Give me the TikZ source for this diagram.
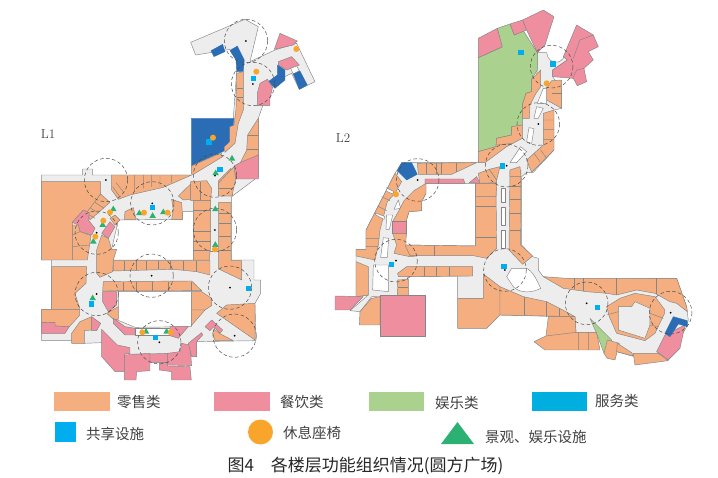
\documentclass[tikz,border=0pt]{standalone}
\usepackage{fontspec}
\newfontfamily\cjk{Noto Sans CJK SC}
\usetikzlibrary{shapes.geometric}
\definecolor{retail}{HTML}{F4AE7F}
\definecolor{food}{HTML}{EE8E9F}
\definecolor{fun}{HTML}{AAD18E}
\definecolor{service}{HTML}{2B6DB5}
\definecolor{serviceKey}{HTML}{00AEE0}
\definecolor{shared}{HTML}{00AEEF}
\definecolor{seat}{HTML}{F9A42B}
\definecolor{scenic}{HTML}{2BB273}
\definecolor{hall}{HTML}{EDEDED}
\definecolor{wall}{HTML}{858585}
\begin{document}
\begin{tikzpicture}[x=1pt,y=-1pt,
        line join=round,
        frameA/.style = {xshift=30pt,yshift=-10pt,x=0.3333pt,y=-0.3333pt},
        frameB/.style = {xshift=30pt,yshift=-170pt,x=0.3333pt,y=-0.3333pt},
        frameC/.style = {xshift=330pt,yshift=-10pt,x=0.3333pt,y=-0.3333pt},
        frameD/.style = {xshift=330pt,yshift=-170pt,x=0.3333pt,y=-0.3333pt},
        floorarea/.style = {fill=hall,draw=wall,line width=0.45pt},
        court/.style = {fill=white,draw=wall,line width=0.45pt},
        shopA/.style = {fill=retail,draw=wall,line width=0.45pt},
        shopB/.style = {fill=food,draw=wall,line width=0.45pt},
        shopC/.style = {fill=fun,draw=wall,line width=0.45pt},
        shopD/.style = {fill=service,draw=service,line width=0.3pt},
        split/.style = {draw=wall,line width=0.45pt},
        reach/.style = {draw=black!70,line width=0.5pt,dash pattern=on 3.5pt off 2.5pt},
        sharedbox/.style = {fill=shared,minimum size=5.5pt,inner sep=0pt},
        seatdot/.style = {circle,fill=seat,minimum size=6pt,inner sep=0pt},
        scenictri/.style = {regular polygon,regular polygon sides=3,fill=scenic,minimum size=7.5pt,inner sep=0pt},
        key/.style = {anchor=west,font=\cjk\fontsize{14.5}{16}\selectfont,text=black!75,inner sep=0pt}
        ]
        \useasboundingbox (0,0) rectangle (718,477);

        % L1
        \begin{scope}[frameB]
        \draw[floorarea] (482,-383) -- (645,-452) -- (685,-430) -- (660,-325) -- (735,-360) -- (800,-380) -- (855,-265) -- (808,-242) -- (785,-290) -- (722,-260) -- (685,-155) -- (685,20) -- (605,80) -- (605,270) -- (672,270) -- (672,330) -- (692,330) -- (692,370) -- (675,400) -- (678,512) -- (500,515) -- (500,560) -- (450,552) -- (300,552) -- (215,518) -- (163,520) -- (125,512) -- (35,512) -- (35,418) -- (65,418) -- (65,270) -- (35,270) -- (35,15) -- (158,15) -- (158,-3) -- (187,-3) -- (187,15) -- (485,15) -- (575,-50) -- (610,-155) -- (620,-295) -- (640,-330) -- (618,-365) -- (497,-345) -- cycle;
        \draw[court] (265,150) -- (458,148) -- (458,125) -- (490,125) -- (490,270) -- (250,270) -- (245,238) -- cycle;
        \draw[court] (265,365) -- (484,365) -- (484,470) -- (315,472) -- (250,445) -- (265,410) -- cycle;
        \draw[court] (315,475) rectangle (420,495);

        \draw[shopA] (35,35) -- (212,35) -- (212,72) -- (175,125) -- (127,157) -- (127,270) -- (35,270) -- cycle;
        \draw[shopA] (212,72) -- (240,97) -- (180,150) -- (172,125) -- cycle;
        \draw[split] (195,97) -- (222,115) (182,115) -- (208,130) (175,133) -- (195,145);
        \draw[shopB] (127,157) -- (160,120) -- (178,128) -- (175,150) -- (195,175) -- (185,195) -- (150,185) -- (145,165) -- cycle;
        \draw[shopA] (127,165) -- (145,165) -- (150,185) -- (183,197) -- (172,270) -- (127,270) -- cycle;
        \draw[split] (127,230) -- (178,225) (127,195) -- (150,185);
        \draw[shopA] (245,15) -- (485,15) -- (400,52) -- (300,75) -- (265,88) -- (245,60) -- cycle;
        \draw[split] (313,15) -- (313,65) (340,15) -- (340,55) (365,15) -- (365,50) (390,15) -- (390,50) (425,15) -- (425,38) (248,50) -- (268,78) (258,38) -- (282,68);
        \draw[shopA] (445,78) -- (482,42) -- (482,88) -- (460,90) -- cycle;
        \draw[shopA] (482,35) -- (530,32) -- (545,55) -- (542,92) -- (482,92) -- cycle;
        \draw[split] (510,35) -- (510,92);
        \draw[shopA] (490,92) -- (542,92) -- (542,225) -- (538,270) -- (490,270) -- cycle;
        \draw[split] (490,120) -- (542,120) (490,185) -- (542,185) (490,215) -- (542,215) (490,240) -- (540,240);
        \draw[shopA] (566,97) -- (603,97) -- (603,272) -- (635,272) -- (635,330) -- (566,297) -- cycle;
        \draw[split] (566,130) -- (603,130) (566,160) -- (603,160) (566,200) -- (603,200) (566,240) -- (603,240);
        \draw[shopA] (566,32) -- (603,-5) -- (608,78) -- (566,78) -- cycle;
        \draw[split] (566,55) -- (605,55) (566,38) -- (603,38);
        \draw[shopA] (285,125) -- (310,113) -- (318,148) -- (283,148) -- cycle;
        \draw[shopA] (425,88) -- (455,98) -- (458,148) -- (425,148) -- (430,120) -- cycle;
        \draw[shopA] (240,145) -- (255,135) -- (270,150) -- (255,165) -- cycle;
        \draw[shopB] (215,190) -- (240,155) -- (255,170) -- (235,205) -- cycle;
        \draw[shopA] (200,240) -- (215,195) -- (235,205) -- (245,238) -- (260,238) -- (250,270) -- (248,305) -- (210,322) -- (200,310) -- cycle;
        \draw[shopA] (250,272) -- (540,272) -- (540,315) -- (500,305) -- (430,298) -- (250,303) -- cycle;
        \draw[split] (283,272) -- (283,302) (318,272) -- (318,300) (350,272) -- (350,300) (385,272) -- (385,298) (420,272) -- (420,298) (460,272) -- (460,300) (500,272) -- (500,305);
        \draw[shopA] (65,290) -- (170,290) -- (168,340) -- (135,370) -- (150,418) -- (65,418) -- cycle;
        \draw[shopA] (220,335) -- (485,333) -- (515,362) -- (218,363) -- cycle;
        \draw[split] (280,335) -- (280,363) (320,335) -- (320,363) (367,335) -- (367,363) (415,335) -- (415,363) (485,335) -- (485,363);
        \draw[shopA] (484,365) -- (515,365) -- (545,385) -- (545,407) -- (525,420) -- (484,420) -- cycle;
        \draw[shopA] (484,420) -- (525,420) -- (484,467) -- cycle;
        \draw[shopB] (218,365) -- (260,365) -- (260,405) -- (235,425) -- (218,395) -- cycle;
        \draw[shopA] (265,410) -- (265,448) -- (250,448) -- (230,430) -- cycle;
        \draw[shopB] (250,445) -- (285,470) -- (315,475) -- (315,495) -- (285,495) -- (250,460) -- cycle;
        \draw[shopB] (420,470) -- (475,470) -- (445,505) -- (420,497) -- cycle;
        \draw[shopA] (35,418) -- (148,418) -- (148,437) -- (118,470) -- (75,468) -- (75,457) -- (35,458) -- cycle;
        \draw[shopB] (35,458) -- (75,457) -- (75,468) -- (118,470) -- (105,490) -- (35,490) -- cycle;
        \draw[shopA] (125,490) -- (150,455) -- (185,440) -- (185,480) -- (163,482) -- (163,520) -- (125,520) -- cycle;
        \draw[shopB] (185,440) -- (212,460) -- (200,482) -- (185,482) -- cycle;
        \draw[shopB] (215,478) -- (262,525) -- (300,533) -- (300,550) -- (285,552) -- (283,605) -- (255,605) -- (215,560) -- cycle;
        \draw[shopB] (283,555) -- (360,550) -- (360,602) -- (320,605) -- (318,630) -- (283,630) -- cycle;
        \draw[shopB] (360,552) -- (412,550) -- (412,578) -- (360,578) -- cycle;
        \draw[shopB] (388,578) -- (412,578) -- (412,588) -- (480,590) -- (484,630) -- (425,630) -- (425,605) -- (388,600) -- cycle;
        \draw[shopB] (412,550) -- (450,545) -- (455,520) -- (480,525) -- (485,587) -- (412,585) -- cycle;
        \draw[shopB] (475,520) -- (515,488) -- (518,495) -- (500,515) -- (500,560) -- (485,560) -- cycle;
        \draw[shopA] (560,430) -- (590,405) -- (675,400) -- (675,510) -- cycle;
        \draw[shopB] (525,470) -- (545,450) -- (578,480) -- (570,490) -- (552,470) -- (540,482) -- cycle;
        \draw[shopA] (552,478) -- (572,492) -- (610,512) -- (555,512) -- (548,490) -- cycle;
        \end{scope}

        \begin{scope}[frameA]
        \draw[shopD] (543,122) -- (578,103) -- (585,125) -- (552,140) -- cycle;
        \draw[shopD] (600,122) -- (622,108) -- (643,150) -- (640,185) -- (620,185) -- (618,150) -- cycle;
        \draw[shopB] (733,118) -- (750,70) -- (802,93) -- (790,105) -- cycle;
        \draw[shopB] (745,155) -- (785,140) -- (808,165) -- (770,180) -- (745,165) -- cycle;
        \draw[court] (782,175) -- (800,168) -- (808,182) -- (790,192) -- cycle;
        \draw[shopD] (790,192) -- (810,183) -- (832,225) -- (808,238) -- cycle;
        \draw[shopD] (742,165) -- (765,180) -- (765,210) -- (735,235) -- (715,215) -- (742,195) -- cycle;
        \draw[shopB] (690,220) -- (712,208) -- (728,232) -- (720,265) -- (720,287) -- (682,287) -- (682,250) -- cycle;
        \draw[shopA] (620,190) -- (640,185) -- (640,300) -- (625,340) -- (615,400) -- (585,427) -- (582,410) -- (598,395) -- (598,350) -- (612,345) -- (618,298) -- cycle;
        \draw[split] (620,235) -- (640,235) (620,262) -- (640,262);
        \draw[shopD] (484,325) -- (612,325) -- (610,345) -- (598,350) -- (598,395) -- (582,410) -- (582,423) -- (484,468) -- cycle;
        \draw[shopA] (484,468) -- (570,430) -- (578,440) -- (492,492) -- (484,492) -- cycle;
        \draw[shopA] (685,325) -- (685,440) -- (630,460) -- (650,420) -- (653,375) -- cycle;
        \draw[split] (653,375) -- (685,375) (652,418) -- (685,418);
        \draw[shopB] (630,458) -- (685,435) -- (685,507) -- (617,507) -- (612,468) -- cycle;
        \draw[shopA] (617,507) -- (612,470) -- (565,520) -- (566,558) -- (606,558) -- cycle;
        \draw[split] (566,535) -- (606,535);
        \foreach \p [count=\i] in {(648,93),(669,222),(555,497)} {
            \draw[reach] \p circle[radius=65];
            \fill[black] \p circle[radius=3];
        }
        \foreach \p [count=\i] in {(671,206),(537,396),(570,478)} \node[sharedbox] (sa\i) at \p {};
        \foreach \p [count=\i] in {(679,185),(799,117),(549,383)} \node[seatdot] (ca\i) at \p {};
        \foreach \p [count=\i] in {(606,446),(557,490)} \node[scenictri] (ta\i) at \p {};
        \end{scope}

        \begin{scope}[frameB]
        \foreach \p [count=\i] in {(228,30),(367,100),(555,180),(200,188),(365,317),(200,372),(600,353),(388,517),(614,497)} {
            \draw[reach] \p circle[radius=65];
            \fill[black] \p circle[radius=3];
        }
        \foreach \p [count=\i] in {(367,113),(185,402),(656,355),(377,503)} \node[sharedbox] (sb\i) at \p {};
        \foreach \p [count=\i] in {(250,118),(218,165),(190,215),(328,130),(368,138),(400,127),(556,118),(556,225),(188,385),(348,485),(410,485)} \node[scenictri] (tb\i) at \p {};
        \foreach \p [count=\i] in {(240,127),(220,152),(196,200),(342,128),(413,128),(555,238),(337,487),(422,487)} \node[seatdot] (cb\i) at \p {};
        \end{scope}
        \node[font=\fontsize{13}{15}\selectfont,text=black!75] (floorA) at (48,134) {L1};

        % L2
        \begin{scope}[frameD]
        \draw[floorarea] (622,-352) -- (650,-352) .. controls (655,-315) and (695,-315) .. (705,-345) -- (712,-330) -- (668,-300) -- (668,-280) -- (695,-240) -- (695,-185) -- (672,-180) -- (672,-60) -- (610,7) -- (590,7) -- (575,20) -- (575,225) -- (608,260) -- (625,265) -- (625,300) -- (640,320) -- (700,330) -- (1040,325) -- (1070,410) -- (1075,450) -- (1070,470) -- (1015,570) -- (905,558) -- (860,545) -- (830,510) -- (800,487) -- (738,487) -- (735,440) -- (700,440) -- (510,435) -- (460,385) -- (383,385) -- (383,318) -- (235,320) -- (203,378) -- (125,380) -- (90,425) -- (60,422) -- (115,375) -- (78,380) -- (78,238) -- (108,238) -- (108,180) -- (195,10) -- (215,-22) -- (440,-22) -- (575,-100) -- (577,-200) -- (620,-270) -- cycle;
        \draw[court] (288,40) -- (437,40) -- (437,228) -- (225,225) -- (230,190) -- (228,155) -- (237,125) -- (275,122) -- (275,95) -- (288,70) -- cycle;
        \draw[court] (130,285) -- (175,285) -- (175,365) -- (128,360) -- cycle;
        \draw[court] (170,135) -- (188,135) -- (178,178) -- (168,178) -- cycle;
        \draw[court] (160,203) -- (176,205) -- (172,262) -- (152,262) -- cycle;
        \draw[court] (205,90) -- (212,115) -- (192,118) -- cycle;
        \draw[court] (515,55) rectangle (525,97);
        \draw[court] (515,112) rectangle (525,165);
        \draw[court] (515,182) rectangle (525,235);
        \draw[court] (530,320) -- (545,295) -- (590,295) .. controls (610,305) and (620,330) .. (632,355) .. controls (610,368) and (570,372) .. (550,350) -- cycle;
        \draw[shopA] (195,10) -- (215,35) -- (195,70) -- (172,95) -- (150,180) -- (145,225) -- (135,270) -- (78,258) -- (78,238) -- (108,238) -- (108,180) -- cycle;
        \draw[split] (108,205) -- (148,205) (108,230) -- (145,230) (142,108) -- (170,122) (155,80) -- (180,92) (170,52) -- (192,68);
        \draw[court] (135,128) -- (138,135) -- (162,148) -- (165,140) -- cycle;
        \draw[shopA] (288,40) -- (288,70) -- (275,95) -- (275,122) -- (237,125) -- (228,155) -- (188,155) -- (205,125) -- (222,92) -- (252,62) -- cycle;
        \draw[shopB] (188,155) -- (228,155) -- (228,190) -- (188,190) -- cycle;
        \draw[shopA] (188,190) -- (228,190) -- (228,225) -- (238,228) -- (260,258) -- (240,260) -- (215,255) -- (192,250) -- (200,225) -- cycle;
        \draw[shopA] (437,40) -- (498,40) -- (500,235) -- (470,265) -- (430,257) -- (240,257) -- (225,225) -- (437,228) -- cycle;
        \draw[split] (437,75) -- (498,75) (437,110) -- (498,110) (437,202) -- (498,202) (314,228) -- (314,257);
        \draw[shopA] (540,0) -- (573,0) -- (572,225) -- (608,258) -- (578,283) -- (537,240) -- cycle;
        \draw[split] (540,50) -- (573,50) (540,88) -- (573,88) (540,130) -- (573,130) (540,180) -- (573,180);
        \draw[shopA] (78,275) -- (115,290) -- (115,375) -- (78,380) -- cycle;
        \draw[shopB] (15,378) -- (100,380) -- (60,420) -- (15,420) -- cycle;
        \draw[shopA] (90,425) -- (125,385) -- (150,380) -- (150,465) -- (88,465) -- cycle;
        \draw[shopA] (203,330) -- (235,328) -- (235,378) -- (202,378) -- cycle;
        \draw[split] (203,353) -- (235,353);
        \draw[shopB] (150,377) -- (285,377) -- (285,500) -- (150,500) -- cycle;
        \draw[shopA] (230,290) -- (428,290) -- (428,318) -- (205,320) -- (203,310) -- cycle;
        \draw[split] (283,290) -- (283,319) (318,290) -- (318,318) (358,290) -- (358,318);
        \draw[shopA] (383,385) -- (460,385) -- (460,312) -- (510,350) -- (510,435) -- (470,475) -- (383,475) -- cycle;
        \draw[shopA] (510,350) -- (580,380) -- (650,395) -- (708,425) -- (735,440) -- (510,435) -- cycle;
        \draw[split] (583,380) -- (583,438) (650,395) -- (650,440) (688,415) -- (688,438);
        \draw[shopA] (655,440) -- (735,440) -- (738,487) -- (800,487) -- (810,540) -- (645,540) -- (612,515) -- (648,498) -- cycle;
        \draw[split] (745,487) -- (745,540) (775,487) -- (775,540) (738,487) -- (648,498);
        \draw[shopC] (780,445) -- (845,510) -- (822,550) -- (800,490) -- cycle;
        \draw[shopA] (832,510) -- (868,520) -- (855,570) -- (832,565) -- (822,550) -- cycle;
        \draw[shopA] (862,520) -- (905,548) -- (910,558) -- (860,545) -- cycle;
        \draw[shopA] (910,550) -- (985,550) -- (1015,572) -- (915,585) -- cycle;
        \draw[shopB] (980,545) -- (1005,495) -- (1065,465) -- (1050,535) -- (1015,570) -- cycle;
        \draw[shopD] (1005,490) -- (1030,440) -- (1072,452) -- (1072,470) -- (1045,462) -- (1020,500) -- cycle;
        \draw[shopA] (640,320) -- (710,325) -- (1040,325) -- (1070,410) -- (1072,425) -- (1040,400) -- (1020,395) -- (975,370) -- (920,360) -- (860,375) -- (830,370) -- (770,365) -- (700,355) -- cycle;
        \draw[split] (733,325) -- (733,358) (760,325) -- (760,362) (860,325) -- (860,375) (980,325) -- (980,372);
        \draw[shopA] (870,385) -- (915,370) -- (975,380) -- (1005,420) -- (1003,432) -- (975,490) -- (945,512) -- (860,490) -- (838,440) -- (830,410) -- cycle;
        \draw[floorarea] (865,410) -- (905,410) -- (915,395) -- (960,415) -- (960,465) -- (945,505) -- (865,480) -- cycle;
        \draw[split] (960,430) -- (1000,445) (960,465) -- (985,470) (830,435) -- (865,425);
        \end{scope}

        \begin{scope}[frameC]
        \draw[shopC] (445,143) -- (515,112) -- (502,55) -- (540,42) -- (553,75) -- (580,62) -- (622,128) -- (622,180) -- (605,208) -- (605,245) -- (588,250) -- (577,285) -- (577,345) -- (545,350) -- (545,375) -- (500,385) -- (498,410) -- (445,425) -- cycle;
        \draw[shopB] (445,85) -- (502,55) -- (517,110) -- (445,143) -- cycle;
        \draw[shopB] (540,42) -- (578,30) -- (590,60) -- (553,75) -- cycle;
        \draw[shopB] (578,30) -- (640,0) -- (672,20) -- (645,105) -- (622,128) -- (590,60) -- cycle;
        \draw[shopB] (700,140) -- (740,45) -- (790,75) -- (805,110) -- (775,125) -- (790,150) -- (762,175) -- (770,215) -- (742,227) -- (730,205) -- (668,200) -- (668,180) -- (712,150) -- cycle;
        \draw[split] (750,90) -- (790,75) (750,90) -- (730,145) (740,180) -- (762,175) (740,180) -- (728,205);
        \draw[shopA] (605,208) -- (632,180) -- (632,230) -- (618,250) -- (600,285) -- (598,325) -- (577,325) -- (577,285) -- (588,250) -- (605,245) -- cycle;
        \draw[shopA] (665,212) -- (695,210) -- (695,295) -- (650,270) -- (650,235) -- cycle;
        \draw[split] (665,250) -- (695,250);
        \draw[shopA] (640,310) -- (672,300) -- (672,420) -- (605,487) -- (590,450) -- (640,405) -- cycle;
        \draw[split] (640,330) -- (672,330) (640,358) -- (672,358) (640,388) -- (672,388) (612,430) -- (630,455) (632,420) -- (650,445);
        \draw[shopA] (445,425) -- (498,410) -- (500,385) -- (545,375) -- (545,350) -- (577,345) -- (577,385) -- (530,410) -- (465,458) -- (445,458) -- cycle;
        \draw[split] (500,405) -- (548,400);
        \draw[shopA] (262,460) -- (440,458) -- (365,493) -- (265,493) -- cycle;
        \draw[split] (290,460) -- (290,493) (318,460) -- (318,493) (335,460) -- (335,493) (380,460) -- (380,486);
        \draw[shopD] (215,458) -- (245,458) -- (262,493) -- (230,510) -- (202,482) -- cycle;
        \draw[shopB] (285,507) -- (400,507) -- (405,520) -- (285,520) -- cycle;
        \draw[shopB] (418,518) -- (440,500) -- (450,520) -- cycle;
        \draw[shopA] (450,520) -- (445,490) -- (478,478) -- (500,510) -- (500,518) -- cycle;
        \draw[shopA] (478,478) -- (510,470) -- (500,510) -- cycle;
        \draw[shopA] (540,480) -- (570,470) -- (573,500) -- (540,500) -- cycle;
        \draw[shopA] (437,520) -- (500,520) -- (498,560) -- (437,560) -- cycle;
        \draw[court] (172,535) -- (192,545) -- (188,552) -- (168,543) -- cycle;
        \draw[court] (620,290) -- (640,295) -- (625,325) -- (612,325) -- cycle;
        \draw[court] (597,353) -- (612,356) -- (605,400) -- (590,395) -- cycle;
        \draw[court] (572,410) -- (590,425) -- (560,458) -- (540,458) -- cycle;
        \draw[court] (640,235) -- (650,235) -- (650,280) -- (622,280) -- cycle;
        \foreach \p [count=\i] in {(665,170),(625,342),(530,467),(263,510)} \draw[reach] \p circle[radius=64];
        \foreach \p [count=\i] in {(625,342),(530,467),(263,510)} \fill[black] \p circle[radius=3];
        \foreach \p [count=\i] in {(573,128),(669,162),(517,468)} \node[sharedbox] (sc\i) at \p {};
        \foreach \p [count=\i] in {(650,220),(198,553)} \node[seatdot] (cc\i) at \p {};
        \end{scope}

        \begin{scope}[frameD]
        \foreach \p [count=\i] in {(198,272),(525,300),(770,400),(1022,428)} {
            \draw[reach] \p circle[radius=64];
            \fill[black] \p circle[radius=3];
        }
        \foreach \p [count=\i] in {(185,283),(522,289),(803,412)} \node[sharedbox] (sd\i) at \p {};
        \end{scope}
        \node[font=\fontsize{13}{15}\selectfont,text=black!75] (floorB) at (343,138) {L2};

        % legend
        \fill[retail] (54,392) rectangle (110,411);
        \fill[food] (214,392) rectangle (270,411);
        \fill[fun] (369,392) rectangle (424,411);
        \fill[serviceKey] (532,392) rectangle (587,411);
        \fill[shared] (55,422) rectangle (76,442);
        \fill[seat] (260.5,432) circle[radius=12.5];
        \fill[scenic] (441,444) -- (474,444) -- (457.5,422) -- cycle;
        \node[key] (k1) at (117,402) {零售类};
        \node[key] (k2) at (280,402) {餐饮类};
        \node[key] (k3) at (435,403) {娱乐类};
        \node[key] (k4) at (595,401) {服务类};
        \node[key] (k5) at (86,434) {共享设施};
        \node[key] (k6) at (283,433) {休息座椅};
        \node[key] (k7) at (485,437) {景观、娱乐设施};
        \node[font=\cjk\fontsize{17}{18}\selectfont,text=black!85,inner sep=0pt] (caption) at (365.5,466) {图4\quad 各楼层功能组织情况(圆方广场)};
    \end{tikzpicture}
\end{document}
